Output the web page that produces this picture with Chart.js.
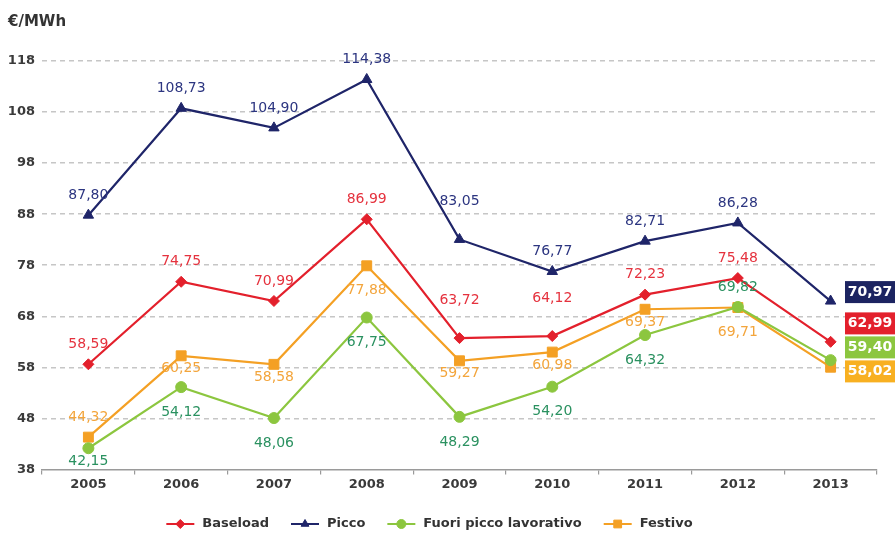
<!DOCTYPE html>
<html>
<head>
<meta charset="utf-8">
<script src="https://cdn.jsdelivr.net/npm/chart.js@4.4.1/dist/chart.umd.min.js"></script>
<style>
  html, body { margin: 0; padding: 0; background: #ffffff; }
  canvas { display: block; }
</style>
</head>
<body>
<canvas id="c" width="895" height="535"></canvas>
<script>
// ---- Data ----
const years = ['2005', '2006', '2007', '2008', '2009', '2010', '2011', '2012', '2013'];
const baseload   = [58.59, 74.75, 70.99, 86.99, 63.72, 64.12, 72.23, 75.48, 62.99];
const picco      = [87.80, 108.73, 104.90, 114.38, 83.05, 76.77, 82.71, 86.28, 70.97];
const fuoriPicco = [42.15, 54.12, 48.06, 67.75, 48.29, 54.20, 64.32, 69.82, 59.40];
const festivo    = [44.32, 60.25, 58.58, 77.88, 59.27, 60.98, 69.37, 69.71, 58.02];
const seriesNames = ['Baseload', 'Picco', 'Fuori picco lavorativo', 'Festivo'];
const yMin = 38, yMax = 118, yStep = 10;
const unitLabel = '€/MWh';

// ---- Label placement codes (a = above, A = far above, b = below, B = far below, '' = none) ----
const posBaseload = ['a', 'a', 'a', 'a', 'A', 'A', 'a', 'a', ''];
const posPicco    = ['a', 'a', 'a', 'a', 'A', 'a', 'a', 'a', ''];
const posFuori    = ['b', 'B', 'B', 'B', 'B', 'B', 'B', 'a', ''];
const posFestivo  = ['a', 'b', 'b', 'B', 'b', 'b', 'b', 'B', ''];
const OFFSETS = { a: -20, A: -38, b: 13, B: 25 };

const FONT = '"DejaVu Sans", "Liberation Sans", sans-serif';
const fmt = v => v.toFixed(2).replace('.', ',');

const series = [
  { name: seriesNames[0], data: baseload,   color: '#e3202c', labelColor: '#e5323e', boxColor: '#e3202c', style: 'rectRot',  radius: 5.5, pos: posBaseload },
  { name: seriesNames[1], data: picco,      color: '#1f2569', labelColor: '#2c3580', boxColor: '#1c2461', style: 'triangle', radius: 6,   pos: posPicco },
  { name: seriesNames[2], data: fuoriPicco, color: '#8cc63f', labelColor: '#2a9160', boxColor: '#8cc63f', style: 'circle',   radius: 5.5, pos: posFuori },
  { name: seriesNames[3], data: festivo,    color: '#f4a024', labelColor: '#f3a53c', boxColor: '#f8b021', style: 'rect',     radius: 7,   pos: posFestivo }
];

// ---- Plugins ----
const valueLabels = {
  id: 'valueLabels',
  afterDatasetsDraw(chart) {
    const ctx = chart.ctx;
    ctx.save();
    ctx.font = '14px ' + FONT;
    ctx.textAlign = 'center';
    ctx.textBaseline = 'middle';
    chart.data.datasets.forEach((ds, di) => {
      const meta = chart.getDatasetMeta(di);
      meta.data.forEach((pt, i) => {
        const code = ds.labelPos[i];
        if (!code) return;
        ctx.fillStyle = ds.labelColor;
        ctx.fillText(fmt(ds.data[i]), pt.x, pt.y + OFFSETS[code]);
      });
    });

    // End-value boxes for the last category, spread to avoid overlaps
    const H = 24;
    const items = chart.data.datasets.map((ds, di) => {
      const meta = chart.getDatasetMeta(di);
      const last = meta.data[meta.data.length - 1];
      return { ds, value: ds.data[ds.data.length - 1], want: last.y - 9 };
    }).sort((p, q) => p.want - q.want);
    const clusters = [];
    items.forEach(it => {
      clusters.push({ items: [it], center: it.want });
      while (clusters.length > 1) {
        const c = clusters[clusters.length - 1], p = clusters[clusters.length - 2];
        const pBottom = p.center + p.items.length * H / 2;
        const cTop = c.center - c.items.length * H / 2;
        if (cTop < pBottom) {
          const merged = p.items.concat(c.items);
          const center = merged.reduce((s, x) => s + x.want, 0) / merged.length;
          clusters.splice(-2, 2, { items: merged, center });
        } else break;
      }
    });
    const bx = chart.chartArea.right - 32;
    const bw = chart.width - bx;
    ctx.font = 'bold 14px ' + FONT;
    clusters.forEach(c => {
      const top = c.center - c.items.length * H / 2;
      c.items.forEach((it, k) => {
        const y = top + k * H;
        ctx.fillStyle = it.ds.boxColor;
        ctx.fillRect(bx, y + 1, bw, H - 2);
        ctx.fillStyle = '#ffffff';
        ctx.fillText(fmt(it.value), bx + bw / 2, y + H / 2);
      });
    });
    ctx.restore();
  }
};

const customLegend = {
  id: 'customLegend',
  afterDraw(chart) {
    const ctx = chart.ctx;
    const LINE = 28, GAP1 = 8, GAP2 = 22;
    ctx.save();
    ctx.font = 'bold 13px ' + FONT;
    const dss = chart.data.datasets;
    const widths = dss.map(ds => ctx.measureText(ds.label).width);
    const total = widths.reduce((s, w) => s + LINE + GAP1 + w, 0) + GAP2 * (dss.length - 1);
    let x = chart.width / 2 - 18 - total / 2;
    const y = chart.height - 11;
    dss.forEach((ds, i) => {
      ctx.strokeStyle = ds.borderColor;
      ctx.fillStyle = ds.borderColor;
      ctx.lineWidth = 2;
      ctx.beginPath();
      ctx.moveTo(x, y);
      ctx.lineTo(x + LINE, y);
      ctx.stroke();
      ctx.lineWidth = 1;
      Chart.helpers.drawPoint(ctx, { pointStyle: ds.pointStyle, radius: ds.pointStyle === 'rect' ? 5.5 : 4.5, rotation: 0, borderWidth: 1 }, x + LINE / 2, y);
      ctx.fillStyle = '#333333';
      ctx.textAlign = 'left';
      ctx.textBaseline = 'middle';
      ctx.fillText(ds.label, x + LINE + GAP1, y);
      x += LINE + GAP1 + widths[i] + GAP2;
    });
    ctx.restore();
  }
};

// ---- Chart ----
new Chart(document.getElementById('c'), {
  type: 'line',
  data: {
    labels: years,
    datasets: series.map(s => ({
      label: s.name,
      data: s.data,
      borderColor: s.color,
      backgroundColor: s.color,
      pointBackgroundColor: s.color,
      pointBorderColor: s.color,
      pointStyle: s.style,
      pointRadius: s.radius,
      pointBorderWidth: 1,
      borderWidth: 2.2,
      tension: 0,
      fill: false,
      labelColor: s.labelColor,
      boxColor: s.boxColor,
      labelPos: s.pos
    }))
  },
  options: {
    responsive: false,
    animation: false,
    devicePixelRatio: 1,
    layout: { padding: { left: 8, right: 18, top: 0, bottom: 41 } },
    plugins: {
      legend: { display: false },
      tooltip: { enabled: false },
      title: {
        display: true,
        text: unitLabel,
        align: 'start',
        color: '#333333',
        font: { family: FONT, size: 15, weight: 'bold' },
        padding: { top: 13, bottom: 30 }
      }
    },
    scales: {
      x: {
        offset: true,
        grid: { offset: true, drawOnChartArea: false, drawTicks: true, tickLength: 5, color: '#9a9a9a', lineWidth: 1.2 },
        border: { display: true, color: '#9a9a9a', width: 1.5 },
        ticks: { color: '#3a3a3a', font: { family: FONT, size: 13, weight: 'bold' }, padding: 2 }
      },
      y: {
        min: yMin,
        max: yMax,
        afterFit: s => { s.width = 34; },
        ticks: { stepSize: yStep, color: '#3a3a3a', font: { family: FONT, size: 13, weight: 'bold' }, padding: 7 },
        grid: {
          drawTicks: false,
          lineWidth: 1.5,
          color: c => (c.tick && c.tick.value === yMin) ? 'rgba(0,0,0,0)' : '#c6c6c6'
        },
        border: { display: false, dash: [5, 4] }
      }
    }
  },
  plugins: [valueLabels, customLegend]
});
</script>
</body>
</html>
